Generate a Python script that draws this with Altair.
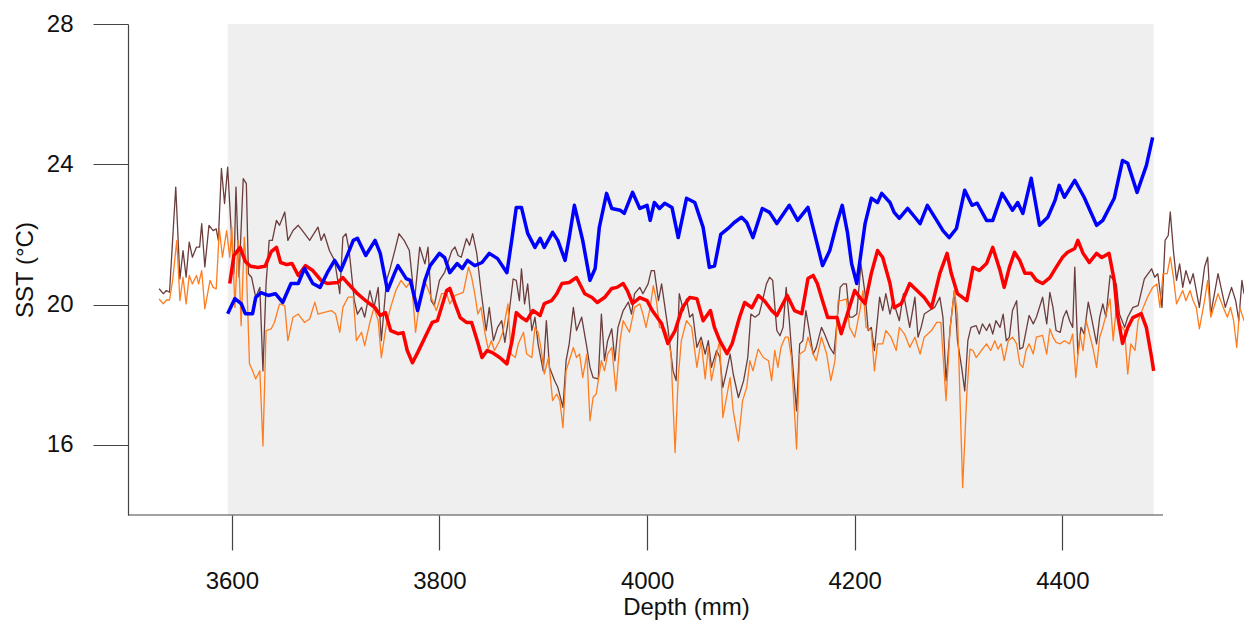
import altair as alt
import pandas as pd

# ---------------- data ----------------
blue_depth = [3596, 3603, 3609, 3613, 3620, 3623, 3628, 3635, 3642, 3649, 3657, 3664, 3670, 3678, 3685, 3692,
              3699, 3705, 3712, 3717, 3721, 3729, 3738, 3743, 3750, 3757, 3760, 3768, 3772, 3779, 3786, 3791,
              3800, 3805, 3810, 3817, 3822, 3827, 3834, 3841, 3848, 3856, 3865, 3870, 3874, 3879, 3885, 3892,
              3897, 3901, 3909, 3914, 3921, 3925, 3930, 3938, 3945, 3950, 3954, 3961, 3966, 3974, 3978, 3986,
              3993, 4000, 4003, 4007, 4012, 4017, 4024, 4030, 4038, 4046, 4054, 4060, 4065, 4071, 4078, 4084,
              4091, 4096, 4102, 4111, 4118, 4125, 4137, 4145, 4155, 4163, 4169, 4176, 4183, 4188, 4193, 4197,
              4202, 4210, 4216, 4222, 4226, 4234, 4238, 4243, 4251, 4258, 4263, 4270, 4279, 4285, 4291, 4298,
              4306, 4313, 4318, 4327, 4333, 4342, 4352, 4357, 4362, 4370, 4378, 4386, 4393, 4397, 4402, 4412,
              4421, 4433, 4439, 4450, 4458, 4463, 4472, 4481, 4487]
blue_sst = [19.74, 20.17, 20.03, 19.74, 19.74, 20.20, 20.34, 20.26, 20.31, 20.06, 20.60, 20.60, 21.03, 20.60, 20.49, 20.91,
            21.26, 20.97, 21.46, 21.83, 21.89, 21.40, 21.83, 21.46, 20.40, 20.91, 21.11, 20.74, 20.69, 19.83, 20.69, 21.11,
            21.46, 21.34, 20.91, 21.17, 21.03, 21.26, 21.11, 21.20, 21.46, 21.31, 20.91, 21.91, 22.77, 22.77, 22.03, 21.63,
            21.89, 21.63, 22.06, 21.83, 21.26, 21.91, 22.83, 21.83, 20.69, 21.03, 22.20, 23.17, 22.74, 22.69, 22.60, 23.20,
            22.74, 22.83, 22.40, 22.91, 22.74, 22.89, 22.77, 21.91, 23.03, 22.91, 22.20, 21.06, 21.10, 22.00, 22.17, 22.34,
            22.49, 22.34, 21.91, 22.74, 22.63, 22.31, 22.83, 22.40, 22.77, 21.83, 21.11, 21.54, 22.34, 22.83, 22.06, 21.17,
            20.60, 22.31, 23.03, 22.91, 23.17, 22.91, 22.63, 22.46, 22.74, 22.49, 22.31, 22.83, 22.40, 22.11, 21.91, 22.17,
            23.26, 22.83, 22.89, 22.40, 22.40, 23.17, 22.69, 22.91, 22.60, 23.60, 22.26, 22.49, 22.97, 23.40, 23.06, 23.54,
            23.06, 22.26, 22.40, 23.03, 24.11, 24.03, 23.20, 23.97, 24.77]

red_depth = [3598, 3602, 3608, 3613, 3618, 3625, 3632, 3638, 3643, 3647, 3653, 3658, 3664, 3671, 3678, 3686,
             3692, 3702, 3707, 3712, 3721, 3729, 3738, 3743, 3748, 3753, 3760, 3765, 3769, 3774, 3779, 3786,
             3793, 3798, 3807, 3810, 3815, 3820, 3826, 3831, 3837, 3841, 3846, 3851, 3858, 3865, 3870, 3874,
             3879, 3884, 3890, 3897, 3901, 3908, 3913, 3918, 3925, 3932, 3940, 3947, 3952, 3959, 3966, 3971,
             3977, 3981, 3986, 3993, 4000, 4005, 4014, 4020, 4027, 4034, 4041, 4048, 4054, 4061, 4065, 4070,
             4077, 4082, 4089, 4094, 4101, 4107, 4113, 4120, 4125, 4131, 4135, 4142, 4149, 4155, 4160, 4164,
             4169, 4174, 4183, 4187, 4193, 4200, 4205, 4210, 4216, 4222, 4227, 4234, 4238, 4245, 4253, 4260,
             4267, 4274, 4282, 4289, 4293, 4299, 4308, 4314, 4320, 4327, 4333, 4340, 4344, 4349, 4354, 4359,
             4364, 4370, 4375, 4381, 4388, 4394, 4400, 4405, 4412, 4415, 4420, 4426, 4433, 4438, 4445, 4450,
             4453, 4458, 4463, 4468, 4476, 4481, 4486, 4488]
red_sst = [20.60, 21.40, 21.63, 21.23, 21.09, 21.06, 21.09, 21.51, 21.63, 21.20, 21.14, 21.17, 20.83, 21.11, 20.97, 20.69,
           20.60, 20.63, 20.77, 20.60, 20.31, 20.11, 19.91, 19.69, 19.77, 19.26, 19.17, 19.20, 18.69, 18.34, 18.63, 19.06,
           19.49, 19.54, 20.40, 20.46, 20.03, 19.63, 19.49, 19.49, 18.91, 18.49, 18.69, 18.63, 18.49, 18.31, 18.97, 19.77,
           19.63, 19.54, 19.83, 19.69, 20.03, 20.11, 20.31, 20.60, 20.63, 20.77, 20.31, 20.20, 20.06, 20.20, 20.46, 20.49,
           20.60, 20.40, 20.03, 20.20, 20.11, 19.83, 19.46, 18.89, 19.26, 19.91, 20.20, 20.17, 19.54, 19.83, 19.34, 18.97,
           18.60, 18.89, 19.63, 20.06, 19.91, 20.26, 20.11, 19.83, 19.69, 20.03, 20.26, 19.83, 19.74, 20.74, 20.83, 20.60,
           20.11, 19.63, 19.63, 19.17, 19.74, 20.40, 20.20, 20.03, 20.89, 21.54, 21.34, 20.60, 19.91, 20.03, 20.60, 20.40,
           20.20, 19.91, 20.89, 21.46, 20.89, 20.31, 20.11, 21.06, 20.97, 21.17, 21.63, 20.97, 20.49, 21.06, 21.49, 21.26,
           20.89, 20.89, 20.69, 20.60, 20.77, 21.06, 21.34, 21.49, 21.60, 21.83, 21.46, 21.20, 21.46, 21.34, 21.46, 20.69,
           19.74, 18.89, 19.34, 19.63, 19.74, 19.34, 18.49, 18.11]

brown_depth = [3530, 3534, 3537, 3540, 3546, 3550, 3553, 3556, 3559, 3562, 3566, 3569, 3571, 3574, 3578, 3582,
               3585, 3587, 3590, 3593, 3596, 3599, 3602, 3604, 3607, 3611, 3614, 3616, 3619, 3623, 3627, 3630,
               3633, 3636, 3639, 3643, 3646, 3651, 3654, 3659, 3664, 3668, 3675, 3683, 3686, 3689, 3694, 3699,
               3704, 3707, 3710, 3713, 3718, 3721, 3725, 3728, 3733, 3737, 3741, 3744, 3749, 3752, 3757, 3761,
               3766, 3771, 3776, 3781, 3786, 3789, 3792, 3795, 3800, 3805, 3812, 3815, 3818, 3821, 3826, 3829,
               3832, 3836, 3840, 3845, 3848, 3852, 3856, 3860, 3863, 3866, 3871, 3874, 3877, 3879, 3882, 3885,
               3889, 3892, 3895, 3900, 3903, 3906, 3911, 3914, 3919, 3922, 3925, 3929, 3932, 3937, 3942, 3945,
               3948, 3953, 3956, 3959, 3962, 3966, 3969, 3972, 3977, 3982, 3985, 3988, 3993, 3996, 4001, 4004,
               4007, 4011, 4014, 4020, 4025, 4028, 4031, 4035, 4038, 4041, 4044, 4048, 4052, 4056, 4059, 4062,
               4067, 4070, 4073, 4076, 4080, 4083, 4088, 4093, 4097, 4100, 4104, 4108, 4112, 4115, 4118, 4121,
               4125, 4128, 4131, 4134, 4137, 4141, 4144, 4147, 4150, 4153, 4160, 4163, 4168, 4171, 4176, 4180,
               4183, 4186, 4189, 4192, 4195, 4198, 4202, 4206, 4210, 4213, 4216, 4219, 4224, 4227, 4230, 4234,
               4237, 4243, 4247, 4253, 4258, 4261, 4264, 4267, 4272, 4277, 4282, 4285, 4288, 4292, 4296, 4299,
               4303, 4306, 4309, 4312, 4317, 4320, 4323, 4327, 4330, 4333, 4336, 4340, 4343, 4346, 4349, 4352,
               4356, 4359, 4362, 4368, 4372, 4375, 4381, 4385, 4388, 4391, 4394, 4398, 4401, 4404, 4407, 4410,
               4412, 4415, 4418, 4421, 4425, 4428, 4433, 4436, 4439, 4442, 4446, 4452, 4455, 4460, 4463, 4468,
               4473, 4479, 4486, 4489, 4492, 4496, 4499, 4502, 4504, 4507, 4510, 4513, 4516, 4519, 4523, 4526,
               4532, 4537, 4540, 4543, 4550, 4557, 4563, 4567, 4570, 4573, 4575]
brown_sst = [20.45, 20.31, 20.40, 20.35, 23.35, 20.73, 21.54, 20.78, 21.78, 21.35, 21.64, 21.64, 22.31, 21.07, 22.26, 22.11,
             22.16, 21.83, 23.88, 22.88, 23.92, 22.31, 20.88, 23.35, 20.78, 23.59, 23.45, 20.88, 20.78, 20.21, 20.49, 18.11,
             20.59, 21.83, 21.83, 22.40, 22.26, 22.64, 21.83, 22.11, 22.26, 22.11, 21.83, 22.21, 21.83, 22.02, 21.54, 21.26,
             20.31, 21.92, 22.02, 21.54, 20.11, 19.73, 19.92, 19.64, 20.40, 19.92, 20.49, 18.97, 20.69, 20.97, 21.54, 22.02,
             21.83, 21.54, 20.11, 21.64, 21.16, 21.64, 20.11, 19.97, 20.69, 20.92, 21.54, 21.64, 21.40, 21.35, 21.88, 21.69,
             22.02, 21.45, 20.40, 19.26, 19.92, 18.97, 19.35, 19.54, 18.92, 19.49, 20.73, 20.69, 20.11, 21.02, 20.02, 20.59,
             19.26, 19.64, 18.88, 18.11, 19.54, 18.21, 17.83, 17.64, 17.07, 18.40, 18.88, 19.92, 19.26, 19.64, 18.78, 18.21,
             17.92, 17.88, 19.73, 18.40, 18.97, 19.31, 18.40, 19.35, 19.83, 20.07, 19.73, 20.31, 20.49, 20.31, 20.59, 20.97,
             20.97, 20.11, 20.59, 19.35, 18.11, 17.83, 20.31, 19.83, 20.16, 19.64, 19.73, 18.78, 19.07, 18.59, 18.97, 18.21,
             18.69, 18.50, 17.64, 18.02, 18.59, 18.02, 17.35, 17.83, 18.49, 19.73, 19.64, 19.73, 20.21, 20.59, 20.78, 20.69,
             19.26, 19.11, 19.35, 20.49, 19.54, 18.02, 16.97, 18.88, 18.97, 19.83, 18.59, 18.78, 19.35, 19.16, 18.78, 18.59,
             19.54, 20.49, 20.59, 20.59, 19.64, 19.64, 19.73, 21.16, 20.31, 19.26, 19.35, 18.69, 20.21, 19.83, 20.31, 19.73,
             20.11, 19.54, 20.31, 19.35, 20.21, 19.07, 19.35, 19.73, 19.83, 19.92, 20.21, 19.64, 17.83, 19.35, 20.40, 18.97,
             18.21, 17.54, 18.97, 19.35, 19.40, 19.16, 19.45, 19.26, 19.45, 19.16, 19.54, 19.35, 19.73, 18.97, 19.07, 19.83,
             20.11, 18.73, 18.78, 19.69, 19.45, 19.64, 20.21, 19.45, 20.35, 19.92, 19.26, 19.21, 19.64, 19.83, 19.54, 19.35,
             21.07, 18.59, 19.35, 19.16, 20.07, 19.64, 18.88, 19.64, 20.02, 19.64, 20.83, 20.59, 19.73, 19.35, 19.64, 19.92,
             19.97, 20.73, 21.02, 20.78, 20.88, 19.92, 21.83, 21.97, 22.64, 21.54, 20.69, 21.16, 20.49, 20.97, 20.59, 20.88,
             19.92, 21.07, 21.35, 19.73, 20.88, 19.92, 20.49, 20.11, 19.54, 20.69, 20.31]

orange_depth = [3530, 3534, 3537, 3540, 3543, 3547, 3550, 3553, 3556, 3559, 3562, 3566, 3568, 3571, 3574, 3579,
                3582, 3585, 3588, 3591, 3595, 3598, 3600, 3603, 3606, 3609, 3612, 3614, 3617, 3620, 3623, 3627,
                3630, 3633, 3638, 3641, 3646, 3651, 3654, 3659, 3664, 3670, 3675, 3680, 3683, 3689, 3696, 3700,
                3704, 3707, 3712, 3717, 3720, 3725, 3728, 3733, 3737, 3741, 3744, 3749, 3753, 3758, 3763, 3768,
                3773, 3777, 3782, 3787, 3792, 3797, 3802, 3807, 3810, 3815, 3820, 3823, 3828, 3831, 3834, 3837,
                3840, 3844, 3847, 3850, 3853, 3858, 3861, 3866, 3869, 3873, 3876, 3881, 3884, 3889, 3892, 3895,
                3898, 3901, 3905, 3909, 3913, 3916, 3919, 3922, 3925, 3929, 3932, 3935, 3938, 3942, 3945, 3948,
                3951, 3956, 3959, 3962, 3966, 3970, 3974, 3977, 3983, 3988, 3993, 3996, 3999, 4003, 4006, 4009,
                4012, 4017, 4020, 4023, 4027, 4030, 4033, 4038, 4043, 4048, 4052, 4056, 4059, 4062, 4067, 4070,
                4073, 4080, 4083, 4088, 4092, 4096, 4099, 4102, 4107, 4112, 4117, 4120, 4123, 4126, 4129, 4133,
                4136, 4139, 4144, 4147, 4152, 4155, 4160, 4163, 4168, 4173, 4177, 4181, 4184, 4187, 4192, 4195,
                4200, 4205, 4208, 4211, 4216, 4219, 4222, 4227, 4230, 4235, 4240, 4243, 4248, 4253, 4258, 4263,
                4267, 4274, 4279, 4283, 4288, 4292, 4296, 4299, 4304, 4308, 4311, 4314, 4317, 4322, 4327, 4331,
                4335, 4338, 4341, 4344, 4348, 4352, 4356, 4359, 4362, 4365, 4368, 4372, 4375, 4381, 4385, 4388,
                4391, 4394, 4398, 4402, 4407, 4410, 4413, 4417, 4420, 4423, 4430, 4433, 4436, 4439, 4446, 4449,
                4452, 4455, 4460, 4463, 4466, 4470, 4473, 4478, 4482, 4487, 4491, 4494, 4497, 4501, 4504, 4507,
                4510, 4516, 4519, 4523, 4526, 4529, 4532, 4537, 4540, 4543, 4550, 4555, 4559, 4562, 4565, 4568,
                4571, 4575]
orange_sst = [20.16, 20.02, 20.13, 20.13, 20.69, 21.83, 20.11, 20.78, 20.02, 20.83, 20.59, 20.83, 20.59, 20.97, 19.88, 20.69,
              20.49, 20.45, 22.16, 21.35, 22.11, 21.35, 22.21, 19.92, 21.83, 19.40, 21.92, 21.07, 18.31, 18.11, 17.88, 18.11,
              15.97, 19.26, 19.31, 19.49, 20.02, 19.97, 18.97, 19.64, 19.73, 19.49, 19.59, 20.07, 19.73, 19.78, 19.83, 19.73,
              19.21, 19.92, 20.21, 20.21, 18.97, 19.21, 18.83, 19.49, 19.92, 19.54, 18.49, 19.45, 19.92, 20.40, 20.69, 20.49,
              20.69, 19.21, 20.31, 20.59, 20.21, 19.83, 20.31, 20.31, 20.02, 20.26, 20.31, 20.35, 21.07, 20.78, 20.31, 19.73,
              19.92, 19.16, 18.73, 18.97, 18.69, 18.97, 19.21, 20.02, 18.59, 18.49, 18.88, 19.21, 18.59, 18.49, 19.35, 19.21,
              18.73, 18.02, 18.49, 17.26, 17.45, 17.26, 16.49, 18.11, 18.40, 18.78, 18.49, 18.59, 17.92, 18.59, 16.69, 17.35,
              17.45, 18.40, 18.11, 18.59, 18.78, 17.54, 18.97, 19.54, 19.21, 19.92, 20.02, 19.73, 19.35, 19.92, 20.54, 20.11,
              19.35, 19.31, 19.07, 18.59, 15.78, 17.92, 18.97, 19.54, 19.35, 18.21, 18.97, 17.88, 18.78, 17.83, 18.59, 18.97,
              16.78, 17.92, 16.97, 16.11, 17.26, 17.64, 18.40, 18.11, 18.73, 18.49, 18.40, 17.83, 18.69, 18.21, 18.78, 19.07,
              19.07, 18.49, 15.88, 18.59, 18.69, 19.07, 18.59, 18.40, 19.07, 18.59, 17.83, 18.40, 20.11, 20.11, 20.16, 19.35,
              19.07, 19.83, 20.40, 19.35, 19.26, 18.11, 18.88, 18.88, 19.26, 19.07, 18.69, 19.35, 19.16, 18.78, 19.07, 18.59,
              19.07, 19.26, 19.49, 19.49, 17.26, 19.35, 20.40, 19.73, 14.78, 17.45, 18.73, 18.69, 18.49, 18.69, 18.88, 18.69,
              18.97, 18.73, 18.88, 18.40, 18.97, 19.07, 18.88, 18.31, 18.21, 18.69, 18.88, 18.59, 19.07, 19.12, 18.59, 19.31,
              19.07, 18.92, 18.88, 18.97, 18.88, 19.16, 17.92, 19.16, 18.69, 19.54, 18.69, 18.21, 19.07, 19.35, 20.16, 18.97,
              19.92, 19.45, 19.26, 18.02, 18.88, 18.69, 19.54, 19.92, 20.21, 20.49, 20.59, 19.92, 20.88, 20.88, 21.35, 20.78,
              20.02, 20.40, 20.11, 20.40, 20.11, 19.92, 19.31, 20.11, 20.69, 19.64, 20.31, 19.92, 19.64, 19.92, 19.54, 18.78,
              19.92, 19.54]

x_domain = [3500, 4575]
y_domain = [14, 28]
x_ticks = [3600, 3800, 4000, 4200, 4400]
y_ticks = [16, 20, 24, 28]
shade_start, shade_end = [3596], [4488]
x_axis_line_start, x_axis_line_end = [3500], [4497]

# ---------------- chart ----------------
FONT = "Liberation Sans"

x_scale = alt.Scale(domain=x_domain, nice=False, zero=False)
y_scale = alt.Scale(domain=y_domain, nice=False, zero=False)

x_axis = alt.Axis(values=x_ticks, title="Depth (mm)", domain=False, grid=False, tickSize=35,
                  tickColor="#444444", tickWidth=1.2, labelPadding=19, labelFontSize=24, labelFont=FONT,
                  labelColor="#111111", titleFont=FONT, titleFontSize=24, titleFontWeight="normal",
                  titleColor="#111111", titlePadding=2, format="d", labelFlush=False)
y_axis = alt.Axis(values=y_ticks, title="SST (°C)", domain=True, domainColor="#444444", domainWidth=1.2,
                  grid=False, tickSize=35, tickColor="#444444", tickWidth=1.2, labelPadding=20,
                  labelFontSize=24, labelFont=FONT, labelColor="#111111", titleFont=FONT, titleFontSize=24,
                  titleFontWeight="normal", titleColor="#111111", titlePadding=9, format="d", labelFlush=False)


def series(depth, sst):
    return pd.DataFrame({"depth": depth, "sst": sst})


def line_layer(depth, sst, color, width):
    return alt.Chart(series(depth, sst)).mark_line(color=color, strokeWidth=width, clip=True,
                                                    strokeJoin="round").encode(
        x=alt.X("depth:Q", scale=x_scale, axis=x_axis),
        y=alt.Y("sst:Q", scale=y_scale, axis=y_axis),
        order="depth:Q",
    )


shade_df = pd.DataFrame({"depth": shade_start, "depth_end": shade_end,
                         "sst": [y_domain[0]], "sst_end": [y_domain[1]]})
shade = alt.Chart(shade_df).mark_rect(color="#efefef").encode(
    x=alt.X("depth:Q", scale=x_scale, axis=x_axis),
    x2="depth_end:Q",
    y=alt.Y("sst:Q", scale=y_scale, axis=y_axis),
    y2="sst_end:Q",
)

axis_df = pd.DataFrame({"depth": x_axis_line_start, "depth_end": x_axis_line_end, "sst": [y_domain[0]]})
x_axis_line = alt.Chart(axis_df).mark_rule(color="#444444", strokeWidth=1.2).encode(
    x=alt.X("depth:Q", scale=x_scale, axis=x_axis),
    x2="depth_end:Q",
    y=alt.Y("sst:Q", scale=y_scale, axis=y_axis),
)

chart = alt.layer(
    shade,
    line_layer(brown_depth, brown_sst, "#6b3d3d", 1.3),
    line_layer(orange_depth, orange_sst, "#ff7c1f", 1.3),
    line_layer(red_depth, red_sst, "#ff0000", 3.5),
    line_layer(blue_depth, blue_sst, "#0000ff", 3.5),
    x_axis_line,
).properties(
    width=1116,
    height=491,
    autosize=alt.AutoSizeParams(type="none"),
    padding={"left": 128, "top": 24, "right": 0, "bottom": 109},
    background="white",
).configure_view(stroke=None)

chart.save("out.html", embed_options={"renderer": "svg", "actions": False})
